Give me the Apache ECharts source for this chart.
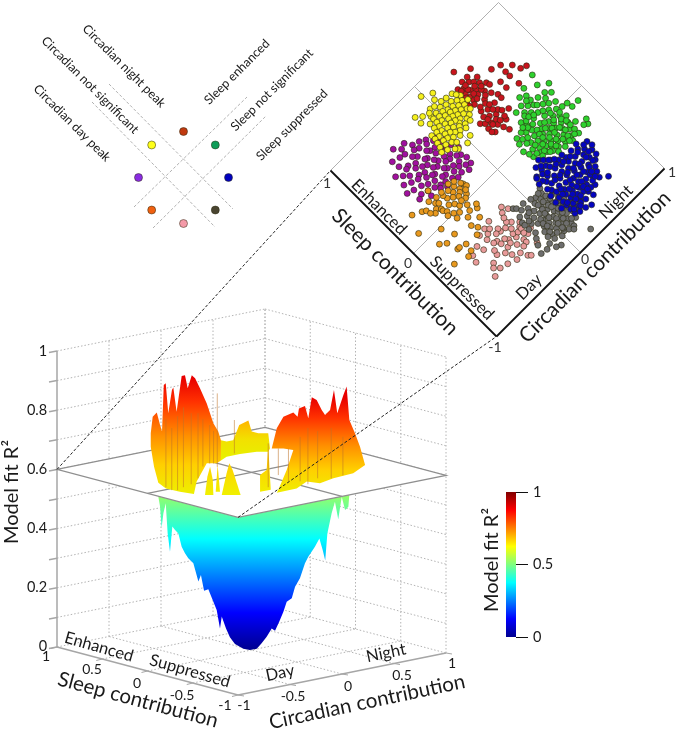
<!DOCTYPE html>
<html><head><meta charset="utf-8">
<style>html,body{margin:0;padding:0;background:#fff}#c{width:677px;height:730px}</style>
<script src="https://cdn.jsdelivr.net/npm/echarts@6/dist/echarts.min.js"></script>
</head><body><div id="c"></div>
<script>
// ---- data: every scatter point is [sleep contribution, circadian contribution]
const redPoints=[[.77,.44],[.85,.32],[.61,.64],[.54,.71],[.45,.79],[.47,.74],[.64,.56],[.54,.63],[.49,.63],[.39,.64],[.44,.54],[.51,.54],[.45,.45],[.30,.43],[.25,.35],[.17,.31],[.24,.21],[.30,.19],[.38,.17],
[.72,.24],[.69,.28],[.66,.22],[.64,.31],[.7,.35],[.67,.38],[.63,.41],[.6,.27],[.58,.21],[.61,.35],[.57,.33],[.55,.39],[.59,.45],[.74,.31],[.65,.26],[.62,.19],[.56,.27],[.68,.43],[.53,.25],[.5,.34],[.56,.46],[.47,.32],
[.45,.25],[.42,.3],[.4,.23],[.37,.27],[.34,.32],[.32,.24],[.35,.2],[.31,.29],[.27,.27],[.28,.36],[.36,.36],[.42,.38],[.22,.29],[.26,.19],[.33,.38],[.41,.45],[.5,.42],
[.69,.25],[.66,.3],[.62,.24],[.6,.31],[.58,.38],[.7,.31],[.64,.36],[.55,.3],[.52,.37],[.48,.27],[.44,.34],[.39,.33],[.36,.24],[.3,.24],[.28,.31],[.74,.37],[.55,.21],[.6,.4]];
const yellowPoints=[[.85,.07],[.90,-.02],[.80,.04],[.77,-.04],[.77,-.13],[.81,-.18],[.74,-.18],[.34,-.02],[.37,.04],[.36,-.11],
[.67,.22],[.63,.2],[.59,.19],[.55,.18],[.50,.16],[.66,.17],[.62,.15],[.58,.14],[.54,.13],[.49,.12],[.47,.08],[.69,.13],[.65,.11],[.61,.1],[.57,.09],[.53,.08],[.51,.05],[.70,.08],[.66,.06],[.63,.06],[.59,.05],[.55,.04],[.49,.03],[.46,.01],[.72,.03],[.68,.02],[.64,.01],[.6,.01],[.56,0],[.52,-.01],[.48,-.03],[.71,-.03],[.67,-.03],[.63,-.04],[.59,-.04],[.55,-.05],[.51,-.06],[.46,-.07],[.72,-.08],[.69,-.08],[.65,-.08],[.61,-.09],[.57,-.1],[.53,-.1],[.49,-.11],[.44,-.11],[.68,-.13],[.63,-.13],[.59,-.14],[.55,-.15],[.5,-.15],[.46,-.16],[.42,-.18],[.6,-.19],[.56,-.19],[.52,-.2],[.48,-.21],[.44,-.23],
[.74,.12],[.73,.18],[.7,.2],[.75,.07],[.76,.0],[.6,.24],[.53,.2],[.46,.13],[.44,.06],[.43,-.02],[.41,-.08],[.38,-.13],[.75,-.07]];
const purplePoints=[[.2,-.12],[.26,-.11],[.31,-.13],[.37,-.1],[.43,-.13],[.5,-.12],[.17,-.17],[.22,-.16],[.28,-.18],[.33,-.16],[.38,-.19],[.45,-.17],[.51,-.18],[.56,-.16],[.2,-.23],[.25,-.21],[.29,-.24],[.35,-.22],[.4,-.24],[.45,-.22],[.51,-.24],[.56,-.21],[.61,-.25],[.19,-.28],[.25,-.27],[.31,-.29],[.36,-.26],[.41,-.3],[.47,-.27],[.52,-.29],[.58,-.27],[.64,-.3],[.22,-.32],[.28,-.34],[.33,-.31],[.38,-.34],[.44,-.32],[.49,-.35],[.54,-.31],[.6,-.34],[.66,-.36],[.24,-.38],[.29,-.37],[.35,-.4],[.4,-.37],[.45,-.39],[.5,-.37],[.56,-.4],[.62,-.38],[.25,-.43],[.31,-.44],[.36,-.42],[.42,-.45],[.47,-.43],[.53,-.45],[.59,-.43],[.65,-.46],[.27,-.48],[.33,-.5],[.38,-.47],[.44,-.5],[.5,-.48],[.56,-.51],[.66,-.51],[.29,-.54],[.36,-.55],[.42,-.53],[.49,-.56],[.55,-.54],[.61,-.57],[.31,-.6],[.38,-.62],[.44,-.59],[.29,-.64],[.53,-.6],[.68,-.58],
[.72,-.4],[.7,-.45],[.75,-.5],[.57,-.65],[.4,-.68],[.23,-.45],[.2,-.4],[.24,-.55],[.47,-.65]];
const orangePoints=[[.24,-.78],[.09,-.85],[-.10,-.79],[-.14,-.74],[-.13,-.64],[-.02,-.69],[-.31,-.82],[-.24,-.71],[-.24,-.69],[-.26,-.63],[-.33,-.64],[-.35,-.69],[-.27,-.51],[-.23,-.46],[-.18,-.49],[-.11,-.46],[-.18,-.39],[-.11,-.35],[-.08,-.33],[-.08,-.41],[.12,-.29],[.09,-.28],[.29,-.54],[.20,-.70],[.18,-.67],
[.16,-.36],[.19,-.33],[.21,-.38],[.14,-.3],[.11,-.34],[.13,-.4],[.17,-.42],[.09,-.36],[.07,-.39],[.04,-.33],[.07,-.31],[.1,-.43],[.02,-.36],[.13,-.47],[.17,-.48],[.2,-.47],[.17,-.57],[.2,-.53],[.15,-.55],[.13,-.6],[.1,-.57],[.08,-.57],[.05,-.55],[.08,-.5],[.05,-.46],[.01,-.44],[0,-.52],[-.03,-.48],[.02,-.57],[-.05,-.53],[.03,-.4],[-.03,-.39],[.22,-.6],[.11,-.63],[.14,-.66]];
const pinkPoints=[[-.25,-.20],[-.29,-.23],[-.26,-.36],[-.28,-.43],[-.39,-.35],[-.40,-.23],[-.48,-.21],[-.29,-.50],[-.34,-.58],[-.40,-.56],[-.37,-.66],[-.43,-.68],[-.51,-.51],[-.54,-.58],[-.57,-.61],[-.61,-.57],[-.63,-.50],[-.63,-.65],[-.64,-.36],[-.70,-.33],[-.72,-.31],[-.53,-.40],[-.57,-.33],[-.58,-.26],[-.61,-.26],[-.57,-.20],[-.55,-.15],[-.49,-.35],[-.46,-.37],[-.43,-.43],[-.36,-.48],[-.42,-.46],[-.52,-.29],[-.48,-.29],[-.50,-.25],[-.50,-.21],[-.40,-.30],[-.36,-.35],[-.37,-.26],[-.45,-.18],[-.38,-.39],[-.33,-.44],[-.44,-.27],[-.47,-.42],[-.54,-.22],[-.47,-.5],[-.6,-.42],[-.68,-.2],
[-.3,-.17],[-.33,-.25],[-.31,-.4],[-.52,-.36],[-.55,-.45],[-.62,-.3],[-.66,-.42]];
const grayPoints=[[-.92,.20],[-.77,-.24],[-.84,-.07],[-.82,-.11],[-.78,-.18],[-.76,-.13],[-.70,-.21],[-.61,-.15],[-.55,-.17],[-.33,-.14],[-.35,-.12],[-.65,-.18],[-.79,.07],[-.77,.03],
[-.37,.14],[-.41,.12],[-.4,.06],[-.45,.13],[-.43,.02],[-.42,-.05],[-.42,-.15],[-.46,-.1],[-.47,-.03],[-.49,.04],[-.5,.1],[-.48,.17],[-.53,.2],[-.53,.13],[-.54,.06],[-.52,-.01],[-.51,-.07],[-.53,-.12],[-.57,-.08],[-.58,-.03],[-.57,.02],[-.59,.09],[-.58,.15],[-.58,.22],[-.63,.24],[-.63,.17],[-.62,.11],[-.62,.05],[-.63,-.01],[-.62,-.06],[-.66,-.09],[-.67,-.03],[-.67,.03],[-.67,.09],[-.68,.15],[-.69,.27],[-.72,.21],[-.72,.12],[-.72,.06],[-.71,0],[-.72,-.06],[-.75,.04],[-.77,.12],[-.76,.18],[-.74,-.02],[-.8,.12],
[-.39,.1],[-.44,.08],[-.46,.03],[-.47,.08],[-.45,-.07],[-.5,-.12],[-.49,.14],[-.52,.09],[-.51,.03],[-.55,.02],[-.55,.1],[-.55,.17],[-.56,-.04],[-.6,.02],[-.6,-.05],[-.6,.13],[-.6,.19],[-.65,.06],[-.65,.13],[-.65,.2],[-.64,-.04],[-.69,.04],[-.69,.1],[-.69,-.06],[-.7,.2],[-.74,.09],[-.74,.15],[-.74,.04],[-.71,-.1],[-.76,-.07],[-.79,-.01],[-.47,-.17],[-.5,-.17],[-.38,.02],[-.36,-.05],[-.39,-.1],[-.66,.24],[-.73,.25],[-.82,.1]];
const bluePoints=[[-.37,.70],[-.28,.19],[-.19,.30],[-.61,.58],[-.75,.24],[-.71,.62],[-.68,.49],[-.78,.35],[-.68,.41],[-.71,.35],[-.45,.68],[-.53,.64],[-.22,.24],[-.22,.33],[-.27,.26],[-.42,.71],[-.5,.68],[-.73,.42],[-.66,.56],
[-.3,.24],[-.27,.31],[-.26,.37],[-.3,.33],[-.31,.42],[-.34,.48],[-.33,.55],[-.36,.6],[-.4,.64],[-.34,.26],[-.34,.35],[-.36,.41],[-.38,.47],[-.39,.54],[-.43,.6],[-.37,.22],[-.38,.3],[-.4,.37],[-.42,.43],[-.43,.5],[-.46,.55],[-.48,.62],[-.41,.24],[-.43,.32],[-.45,.38],[-.47,.45],[-.49,.51],[-.52,.57],[-.45,.2],[-.47,.27],[-.49,.33],[-.51,.4],[-.53,.46],[-.56,.52],[-.57,.6],[-.49,.22],[-.52,.28],[-.54,.35],[-.56,.41],[-.59,.47],[-.61,.53],[-.54,.2],[-.56,.26],[-.58,.32],[-.6,.38],[-.63,.44],[-.64,.5],[-.59,.2],[-.61,.27],[-.63,.33],[-.65,.38],[-.67,.45],[-.63,.2],[-.66,.25],[-.68,.31],[-.71,.27],[-.68,.2],[-.73,.2],
[-.32,.28],[-.32,.38],[-.35,.44],[-.36,.51],[-.38,.58],[-.41,.28],[-.41,.34],[-.44,.4],[-.45,.46],[-.46,.52],[-.46,.6],[-.5,.26],[-.5,.37],[-.51,.44],[-.53,.5],[-.54,.56],[-.54,.24],[-.55,.31],[-.58,.37],[-.58,.43],[-.59,.52],[-.62,.22],[-.6,.3],[-.62,.41],[-.65,.29],[-.66,.34],[-.66,.42],[-.7,.3],[-.7,.22],[-.34,.2],[-.28,.4],[-.3,.47],[-.32,.62],[-.37,.66],[-.44,.65],[-.52,.62],[-.58,.55],[-.63,.54],[-.24,.28],[-.25,.36],[-.42,.18],[-.48,.16],[-.55,.15],[-.62,.15],[-.72,.28],[-.76,.3],[-.29,.18],[-.34,.16]];
const greenPoints=[[.21,.82],[.27,.74],[.36,.77],[.07,.30],[.23,.45],[.24,.52],[-.27,.81],[-.07,.89],[-.14,.29],[-.05,.26],[.22,.61],[.14,.71],[.14,.78],[.18,.74],[.06,.75],[-.07,.82],[-.02,.81],[-.01,.76],[.27,.61],[.09,.44],[.14,.42],[-.23,.83],[-.25,.78],
[.2,.56],[.17,.6],[.18,.5],[.14,.54],[.12,.46],[.1,.58],[.09,.52],[.06,.48],[.05,.39],[.08,.36],[.03,.33],[.03,.44],[.02,.53],[.04,.6],[.05,.66],[.01,.71],[-.01,.65],[-.02,.59],[-.02,.5],[-.02,.42],[-.04,.36],[-.09,.33],[-.07,.41],[-.06,.48],[-.06,.55],[-.06,.61],[-.05,.69],[-.09,.73],[-.1,.66],[-.1,.59],[-.1,.52],[-.11,.45],[-.12,.38],[-.16,.36],[-.15,.43],[-.15,.49],[-.15,.56],[-.14,.63],[-.14,.7],[-.18,.75],[-.19,.67],[-.19,.6],[-.19,.53],[-.19,.46],[-.19,.4],[-.22,.44],[-.23,.5],[-.24,.57],[-.24,.64],[-.27,.7],[-.28,.62],[-.27,.54],
[.16,.48],[.13,.5],[.11,.54],[.15,.62],[.08,.62],[.07,.43],[.01,.37],[.0,.47],[.0,.56],[.02,.65],[-.03,.71],[-.04,.46],[-.04,.53],[-.04,.63],[-.08,.37],[-.08,.46],[-.08,.57],[-.08,.68],[-.12,.42],[-.12,.5],[-.12,.56],[-.12,.62],[-.12,.7],[-.17,.39],[-.17,.47],[-.17,.53],[-.17,.64],[-.17,.7],[-.21,.42],[-.21,.49],[-.21,.57],[-.22,.62],[-.22,.7],[-.26,.47],[-.26,.6],[-.25,.67],[-.14,.33],[-.19,.35],[.12,.66],[.19,.67],[.24,.58],[.1,.4],[.02,.28],[-.1,.28],[-.02,.33],[.09,.7],[.3,.56],[.33,.64]];
const sleepTicks=[1,.5,0,-.5,-1];
const circadianTicks=[-1,-.5,0,.5,1];
const r2Ticks=[0,.1,.2,.3,.4,.5,.6,.7,.8,.9,1];
const r2Labels=['0','0.2','0.4','0.6','0.8','1'];
const planeLevel=.6;
// surface silhouettes: [position along the front of the box (-1..1), apparent R2]
const funnelEnvelope=[[-.479,.518],[-.470,.484],[-.462,.414],[-.453,.462],[-.441,.496],[-.431,.394],[-.419,.332],[-.407,.417],[-.393,.405],[-.376,.394],[-.359,.349],[-.342,.327],[-.325,.310],[-.299,.293],[-.273,.231],[-.260,.253],[-.244,.200],[-.222,.205],[-.196,.163],[-.179,.135],[-.162,.073],[-.153,.113],[-.131,.073],[-.111,.043],[-.085,.020],[-.042,.004],[-.008,0],[.027,.004],[.052,.023],[.078,.045],[.104,.073],[.121,.065],[.143,.096],[.164,.129],[.181,.163],[.207,.175],[.224,.214],[.249,.242],[.275,.293],[.292,.315],[.326,.349],[.349,.377],[.366,.338],[.379,.302],[.390,.394],[.412,.462],[.429,.501],[.446,.442],[.464,.518],[.481,.473],[.498,.484],[.503,.524]];
const ridgeLeft=[[-.518,.732],[-.508,.788],[-.487,.802],[-.470,.760],[-.460,.738],[-.451,.895],[-.441,.901],[-.428,.800],[-.409,.878],[-.402,.887],[-.385,.805],[-.359,.926],[-.342,.928],[-.328,.884],[-.307,.928],[-.290,.918],[-.265,.884],[-.230,.833],[-.196,.766],[-.171,.738],[-.157,.709],[-.157,.640],[-.179,.631],[-.230,.631],[-.282,.569],[-.296,.527],[-.368,.535],[-.440,.546],[-.479,.565],[-.501,.619],[-.518,.687]];
const ridgeBack=[[-.157,.709],[-.128,.704],[-.094,.709],[-.063,.760],[-.016,.775],[.001,.738],[.035,.732],[.086,.732],[.095,.681],[.086,.670],[.027,.670],[-.059,.662],[-.128,.653],[-.157,.640]];
const ridgeRight=[[.104,.681],[.130,.749],[.164,.788],[.215,.802],[.237,.788],[.244,.816],[.275,.824],[.292,.783],[.310,.854],[.335,.845],[.361,.811],[.378,.794],[.404,.811],[.424,.878],[.441,.800],[.472,.861],[.489,.890],[.503,.777],[.532,.732],[.558,.687],[.584,.625],[.523,.597],[.421,.580],[.352,.563],[.284,.569],[.232,.546],[.130,.531],[.138,.541],[.181,.608],[.215,.676],[.164,.681]];
const frontLobes=[
 [[-.239,.524],[-.227,.585],[-.213,.619],[-.199,.574],[-.196,.524]],
 [[-.184,.535],[-.174,.625],[-.162,.535]],
 [[-.153,.524],[-.128,.597],[-.114,.631],[-.097,.608],[-.056,.524]],
 [[.044,.535],[.044,.591],[.078,.608],[.086,.698],[.092,.619],[.099,.541]]];
const ridgeStreaks=[[-.176,.867,.619],[-.088,.777,.664],[.138,.681,.591],[.086,.698,.55],[-.44,.78,.55],[-.41,.75,.54],[-.38,.79,.54],[-.35,.82,.55],[-.31,.8,.56],[-.275,.8,.58],[-.25,.78,.62],[-.215,.76,.63],[-.195,.74,.63],[.19,.68,.57],[.25,.72,.57],[.29,.75,.56],[.34,.74,.58],[.41,.75,.58],[.47,.72,.59]];
// legend: angle round the ring of the eight response classes, with colour
const legendAngles=[90,135,45,180,0,225,315,270];
const legendColors=['#c0390f','#ffff1a','#0f9d58','#8a2be2','#0000c0','#f06010','#4a4530','#f49aa8'];
const colorbarTicks=[0,.5,1];

// ---- projections
const box=(s,c,z)=>[251.5+104*c-90.5*s,650-21*c-24*s-296*z];
const front=(u,z)=>[251.5+194.5*u,650-296*z];
const flat=(s,c)=>[497.5+84*c-83*s,169.5-84*c-83*s];
const ring=a=>[183.5+45*Math.cos(a*Math.PI/180),177.5-46*Math.sin(a*Math.PI/180)];

const jet=[[0,'#00008f'],[.125,'#0000ff'],[.375,'#00ffff'],[.625,'#ffff00'],[.875,'#ff0000'],[1,'#800000']].map(([offset,color])=>({offset,color}));
const fillZ=(y0,y1)=>new echarts.graphic.LinearGradient(0,y0,0,y1,jet,true);
const ridgeFill=(y0,y1,stops)=>new echarts.graphic.LinearGradient(0,y0,0,y1,stops.map(([offset,color])=>({offset,color})),true);
const hotStops=[[0,'#e80000'],[.2,'#ff3000'],[.5,'#ff9000'],[.75,'#ffd000'],[1,'#eef000']];

function polySeries(points,fill,z,stroke,lw){
 return {type:'custom',coordinateSystem:'cartesian2d',xAxisIndex:0,yAxisIndex:0,z,silent:true,data:[[0,0]],
  renderItem:(p,api)=>({type:'polygon',shape:{points:points.map(q=>api.coord(q))},style:{fill,stroke:stroke||null,lineWidth:lw||0}})};
}
function lineSeries(segs,style,z){
 return {type:'custom',coordinateSystem:'cartesian2d',xAxisIndex:0,yAxisIndex:0,z,silent:true,data:segs.map((_,i)=>[i,0]),
  renderItem:(p,api)=>{const q=segs[p.dataIndex],a=api.coord(q[0]),b=api.coord(q[1]);
   return {type:'line',shape:{x1:a[0],y1:a[1],x2:b[0],y2:b[1]},style:Object.assign({fill:null},style)};}};
}
function dotSeries(points,color,z,size,bw){
 return {type:'scatter',xAxisIndex:0,yAxisIndex:0,z,silent:true,symbol:'circle',symbolSize:size||6,data:points,
  itemStyle:{color,opacity:1,borderColor:'#2a2a10',borderWidth:bw===undefined?.6:bw}};
}

// box gridlines
const inner=[-.5,0,.5];
const dotted=[];
r2Ticks.forEach(z=>{dotted.push([box(1,-1,z),box(1,1,z)]);dotted.push([box(1,1,z),box(-1,1,z)]);});
[-.5,0,.5,1].forEach(v=>{dotted.push([box(1,v,0),box(1,v,1)]);dotted.push([box(v,1,0),box(v,1,1)]);});
dotted.push([box(-1,1,0),box(-1,1,1)]);
inner.forEach(v=>{dotted.push([box(v,-1,0),box(v,1,0)]);dotted.push([box(-1,v,0),box(1,v,0)]);});
const solid=[[box(1,-1,0),box(1,-1,1)],[box(1,-1,0),box(-1,-1,0)],[box(-1,-1,0),box(-1,1,0)]];
r2Ticks.forEach(z=>{const a=box(1,-1,z);solid.push([a,[a[0]-8,a[1]+1.5]]);});
const floorTicks=[];
sleepTicks.forEach(s=>{const a=box(s,-1,0);floorTicks.push([a,[a[0]-6,a[1]+1.5]]);});
circadianTicks.forEach(c=>{const a=box(-1,c,0);floorTicks.push([a,[a[0]+6,a[1]+1]]);});
const planeCorners=[box(1,-1,planeLevel),box(1,1,planeLevel),box(-1,1,planeLevel),box(-1,-1,planeLevel)];
const planeCross=[[box(0,-1,planeLevel),box(0,1,planeLevel)],[box(-1,0,planeLevel),box(1,0,planeLevel)]];
const connectors=[[box(1,-1,planeLevel),flat(1,-1)],[box(-1,-1,planeLevel),flat(-1,-1)]];
const diamondThin=[[flat(1,-1),flat(1,1)],[flat(1,1),flat(-1,1)],[flat(0,-1),flat(0,1)],[flat(-1,0),flat(1,0)]];
const diamondAxes=[[flat(1,-1),flat(-1,-1)],[flat(-1,-1),flat(-1,1)]];
const legendLines=[[[109,84],[233,209]],[[92,102],[215,227]],[[134,207],[247,97]],[[153,228],[266,116]]];

const txt=(text,x,y,size,rot,fill)=>({type:'text',x,y,rotation:(rot||0)*Math.PI/180,z:20,silent:true,
 style:{text,font:size+'px Lato',fill:fill||'#1a1a1a',align:'center',verticalAlign:'middle'}});
const texts=[
 txt('Circadian night peak',124,66,12.5,-45),txt('Circadian not significant',90,85,12.5,-45),txt('Circadian day peak',72,123,12.5,-45),
 txt('Sleep enhanced',237,72,12.5,45),txt('Sleep not significant',272,90,12.5,45),txt('Sleep suppressed',292,125,12.5,45),
 txt('1',327,183,14,0,'#333'),txt('0',408,263,14,0,'#333'),txt('-1',495,347,14,0,'#333'),txt('0',585,259,14,0,'#333'),txt('1',672,172,14,0,'#333'),
 txt('Enhanced',379,207,16.5,-45),txt('Suppressed',462,288,16.5,-45),txt('Day',529,287,16.5,45),txt('Night',616,202,16.5,45),
 txt('Sleep contribution',395,272,21,-45),txt('Circadian contribution',595,267,21,45),
 txt('Model fit R\u00b2',12,492,20,90),txt('Model fit R\u00b2',492,560,20,90),
 txt('Enhanced',99,647,16.5,-16),txt('Suppressed',190,671,16.5,-16),txt('Day',280,673,16.5,12),txt('Night',386,653,16.5,12),
 txt('Sleep contribution',138,700,20.5,-15),txt('Circadian contribution',367,702,20.5,12)
];
r2Labels.forEach(l=>{const a=box(1,-1,+l);texts.push(txt(l,l.length>1?37:43,a[1]+(+l===0?-1:0),14.5));});
const sleepLabelPos=[[46,656],[92,669],[137,683],[182,695],[225,705]];
const circLabelPos=[[244,705],[293,696],[348,686],[402,675],[452,663]];
sleepTicks.forEach((v,i)=>texts.push(txt(String(v),sleepLabelPos[i][0],sleepLabelPos[i][1],14)));
circadianTicks.forEach((v,i)=>texts.push(txt(String(v),circLabelPos[i][0],circLabelPos[i][1],14)));

const series=[
 lineSeries(dotted,{stroke:'#b4b4b4',lineWidth:1,lineDash:[1.5,2]},1),
 lineSeries(solid,{stroke:'#a6a6a6',lineWidth:1.5},2),
 lineSeries(floorTicks,{stroke:'#a6a6a6',lineWidth:1},2),
 polySeries([[funnelEnvelope[0][0],.6]].concat(funnelEnvelope,[[funnelEnvelope[funnelEnvelope.length-1][0],.6]]).map(p=>front(p[0],p[1])),fillZ(650,354),3),
 polySeries(planeCorners,'#ffffff',4,'#8f8f8f',1.3),
 lineSeries(planeCross,{stroke:'#8f8f8f',lineWidth:1.2},5),
 polySeries(ridgeLeft.map(p=>front(p[0],p[1])),ridgeFill(378,494,hotStops),6),
 polySeries(ridgeBack.map(p=>front(p[0],p[1])),ridgeFill(420,458,[[0,'#ffb400'],[.5,'#f2e000'],[1,'#e8f000']]),6),
 polySeries(ridgeRight.map(p=>front(p[0],p[1])),ridgeFill(398,494,hotStops),6),
 ...frontLobes.map(l=>polySeries(l.map(p=>front(p[0],p[1])),ridgeFill(462,495,[[0,'#ffd000'],[1,'#f0f000']]),6)),
 lineSeries(ridgeStreaks.map(q=>[front(q[0],q[1]),front(q[0],q[2])]),{stroke:'rgba(190,115,40,.55)',lineWidth:1},7),
 lineSeries(connectors,{stroke:'#222',lineWidth:1,lineDash:[3,2]},8),
 lineSeries(diamondThin,{stroke:'#b0b0b0',lineWidth:1},1),
 lineSeries(diamondAxes,{stroke:'#111',lineWidth:1.8},9),
 lineSeries(legendLines,{stroke:'#a8a8a8',lineWidth:.9,lineDash:[3,2]},1),
 dotSeries(pinkPoints.map(p=>flat(p[0],p[1])),'#e89a9a',10),
 dotSeries(grayPoints.map(p=>flat(p[0],p[1])),'#6e6e6e',11),
 dotSeries(greenPoints.map(p=>flat(p[0],p[1])),'#2ed12e',12),
 dotSeries(bluePoints.map(p=>flat(p[0],p[1])),'#0505c0',13),
 dotSeries(purplePoints.map(p=>flat(p[0],p[1])),'#a010a0',14),
 dotSeries(orangePoints.map(p=>flat(p[0],p[1])),'#e8981e',15),
 dotSeries(redPoints.map(p=>flat(p[0],p[1])),'#c8141e',16),
 dotSeries(yellowPoints.map(p=>flat(p[0],p[1])),'#f5f01e',17),
 ...legendAngles.map((a,i)=>dotSeries([ring(a)],legendColors[i],10,8,.5)),
 {type:'bar',xAxisIndex:1,yAxisIndex:1,data:[1],barWidth:'100%',silent:true,z:3,
  itemStyle:{color:new echarts.graphic.LinearGradient(0,0,0,1,jet.map(s=>({offset:1-s.offset,color:s.color})).reverse())}}
];

const chart=echarts.init(document.getElementById('c'),null,{renderer:'canvas'});
chart.setOption({
 animation:false,backgroundColor:'#fff',
 grid:[{left:0,top:0,width:677,height:730},{left:506,top:492,width:10,height:145}],
 xAxis:[{type:'value',min:0,max:677,show:false},{type:'category',gridIndex:1,data:['R2'],show:false}],
 yAxis:[{type:'value',min:0,max:730,inverse:true,show:false},
  {type:'value',gridIndex:1,position:'right',min:0,max:1,interval:.5,splitLine:{show:false},
   axisLine:{show:false},axisTick:{show:true,length:12,lineStyle:{color:'#111',width:1}},
   axisLabel:{margin:17,fontSize:14.5,fontFamily:'Lato',color:'#1a1a1a',formatter:v=>colorbarTicks.includes(v)?String(v):''}}],
 series,
 graphic:{elements:texts}
});
</script></body></html>
